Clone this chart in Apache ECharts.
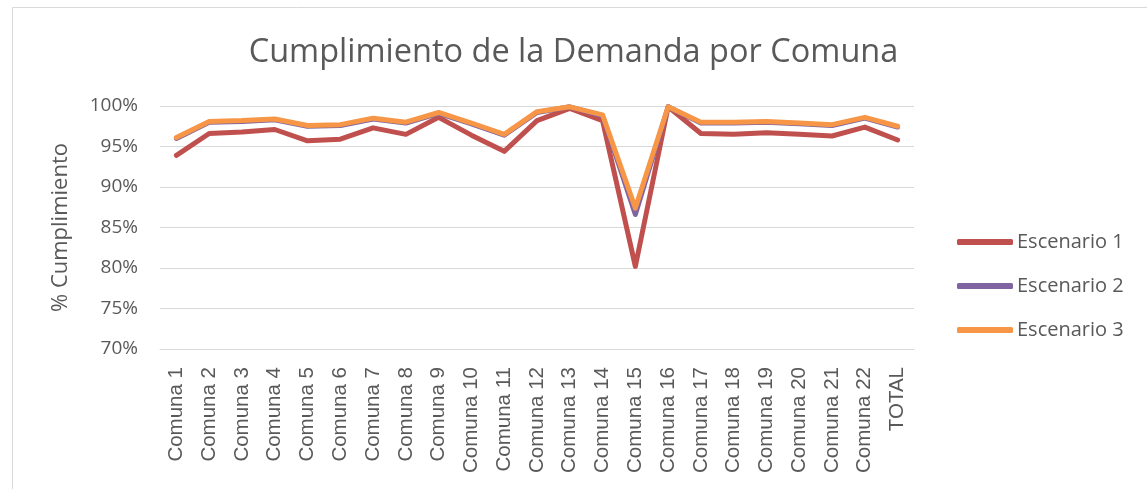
<!DOCTYPE html>
<html>
<head>
<meta charset="utf-8">
<title>Cumplimiento de la Demanda por Comuna</title>
<script src="https://cdn.jsdelivr.net/npm/echarts@6/dist/echarts.min.js"></script>
<style>
  html, body { margin: 0; padding: 0; background: #fff; }
  #chart { width: 1147px; height: 489px; }
</style>
</head>
<body>
<div id="chart"></div>
<script>
// categorias (eje x)
const comunas = [
  'Comuna 1', 'Comuna 2', 'Comuna 3', 'Comuna 4', 'Comuna 5', 'Comuna 6',
  'Comuna 7', 'Comuna 8', 'Comuna 9', 'Comuna 10', 'Comuna 11', 'Comuna 12',
  'Comuna 13', 'Comuna 14', 'Comuna 15', 'Comuna 16', 'Comuna 17', 'Comuna 18',
  'Comuna 19', 'Comuna 20', 'Comuna 21', 'Comuna 22', 'TOTAL'
];

// % cumplimiento por escenario
const escenario1 = [
  93.9, 96.6, 96.8, 97.1, 95.7, 95.9, 97.3, 96.5, 98.6, 96.4, 94.4, 98.2,
  99.7, 98.2, 80.2, 99.9, 96.6, 96.5, 96.7, 96.5, 96.3, 97.4, 95.8
];
const escenario2 = [
  96.0, 98.0, 98.1, 98.3, 97.5, 97.6, 98.4, 97.9, 99.1, 97.8, 96.4, 99.2,
  99.9, 98.8, 86.6, 99.9, 97.9, 97.9, 98.0, 97.8, 97.6, 98.5, 97.4
];
const escenario3 = [
  96.1, 98.1, 98.2, 98.4, 97.6, 97.7, 98.5, 98.0, 99.2, 97.9, 96.5, 99.3,
  99.9, 98.9, 87.4, 99.9, 98.0, 98.0, 98.1, 97.9, 97.7, 98.6, 97.5
];

// eje y
const yMin = 70;
const yMax = 100;
const yStep = 5;

const textColor = '#595959';
const gridColor = '#d9d9d9';

function lineSerie(name, data, color) {
  return {
    name: name,
    type: 'line',
    data: data,
    showSymbol: false,
    symbol: 'none',
    smooth: false,
    lineStyle: { color: color, width: 5, cap: 'round', join: 'round' },
    itemStyle: { color: color },
    emphasis: { disabled: true }
  };
}

const myChart = echarts.init(document.getElementById('chart'));

const option = {
  animation: false,
  backgroundColor: '#ffffff',
  // marco del grafico
  graphic: [{
    type: 'rect',
    silent: true,
    shape: { x: 12.5, y: 7.5, width: 1300, height: 600 },
    style: { fill: 'none', stroke: gridColor, lineWidth: 1 }
  }],
  title: {
    text: 'Cumplimiento de la Demanda por Comuna',
    left: 'center',
    top: 31,
    textStyle: {
      fontFamily: 'Open Sans',
      fontSize: 32.5,
      fontWeight: 'normal',
      color: textColor
    }
  },
  legend: {
    orient: 'vertical',
    left: 952,
    top: 227,
    icon: 'roundRect',
    itemWidth: 56,
    itemHeight: 6,
    itemGap: 24,
    selectedMode: false,
    data: ['Escenario 1', 'Escenario 2', 'Escenario 3'],
    textStyle: {
      fontFamily: 'Open Sans',
      fontSize: 20,
      color: textColor,
      padding: [0, 0, 0, -1]
    }
  },
  grid: {
    left: 160,
    right: 233,
    top: 106,
    bottom: 140,
    containLabel: false
  },
  xAxis: {
    type: 'category',
    data: comunas,
    boundaryGap: true,
    axisLine: { show: true, lineStyle: { color: gridColor, width: 1 } },
    axisTick: { show: false },
    axisLabel: {
      rotate: 90,
      margin: 18,
      interval: 0,
      fontFamily: 'Liberation Sans',
      fontSize: 20.5,
      color: textColor
    }
  },
  yAxis: {
    type: 'value',
    min: yMin,
    max: yMax,
    interval: yStep,
    name: '% Cumplimiento',
    nameLocation: 'middle',
    nameGap: 88,
    nameTextStyle: {
      fontFamily: 'Open Sans',
      fontSize: 22,
      color: textColor
    },
    axisLine: { show: false },
    axisTick: { show: false },
    splitLine: { lineStyle: { color: gridColor, width: 1 } },
    axisLabel: {
      formatter: '{value}%',
      margin: 22,
      fontFamily: 'Open Sans',
      fontSize: 19,
      color: textColor
    }
  },
  tooltip: { show: false },
  series: [
    lineSerie('Escenario 1', escenario1, '#c0504d'),
    lineSerie('Escenario 2', escenario2, '#8064a2'),
    lineSerie('Escenario 3', escenario3, '#f79646')
  ]
};

myChart.setOption(option, true);
</script>
</body>
</html>
